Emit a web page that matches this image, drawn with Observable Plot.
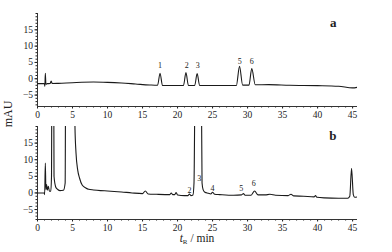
<!DOCTYPE html>
<html><head><meta charset="utf-8">
<script src="https://cdn.jsdelivr.net/npm/d3@7"></script>
<script src="https://cdn.jsdelivr.net/npm/@observablehq/plot@0.6"></script>
<style>
body{margin:0;background:#fff;}
#wrap{position:relative;width:392px;height:252px;font-family:"Liberation Serif","Times New Roman",Times,serif;color:#222;overflow:hidden;}
#top,#bot{position:absolute;left:0;}
#top{top:0;} #bot{top:122px;}
#ylab{position:absolute;left:8px;top:114px;transform:translate(-50%,-50%) rotate(-90deg);font-size:12px;white-space:nowrap;}
#xlab{position:absolute;left:197px;top:239px;transform:translate(-50%,-50%);font-size:11.5px;white-space:nowrap;}
#xlab sub{font-size:7px;vertical-align:-2px;}
</style>
</head><body>
<div id="wrap"><div id="top"></div><div id="bot"></div>
<div id="ylab">mAU</div>
<div id="xlab"><i>t</i><sub>R</sub> / min</div></div>
<script>
// chromatogram a
const timeA = [0,0.9,1.0,1.05,1.12,1.2,1.4,1.8,1.95,2.1,3,5,8,10,12,14,16,17.15,17.5,17.85,20.85,21.2,21.55,22.45,22.8,23.15,26,28.4,28.85,29.3,30.2,30.6,31.1,33,36,40,43,45,45.7];
const mAUa  = [-1.5,-1.5,-1.6,-2.3,1.7,-1.7,-1.5,-1.45,-0.7,-1.45,-1.4,-1.2,-1.0,-1.1,-1.3,-1.6,-1.9,-2.0,1.7,-2.05,-2.05,1.9,-2.05,-2.05,1.6,-2.05,-2.05,-2.05,3.8,-1.95,-1.95,3.1,-1.85,-1.8,-2.0,-2.1,-2.3,-2.8,-2.6];
// chromatogram b
const timeB = [0,0.95,1.02,1.12,1.2,1.3,1.4,1.55,1.7,1.9,2.0,2.08,2.28,2.36,2.6,2.8,3.2,3.7,3.95,4.05,4.2,5.25,5.35,5.5,5.75,6.0,6.4,6.9,7.3,8,9,10,12,13.5,15,15.4,15.8,17,18.9,19.1,19.3,19.6,19.8,20.0,21,21.5,21.7,21.9,22.2,22.35,22.6,23.3,23.5,23.65,23.9,24.4,24.75,25.0,25.3,26,28,29.15,29.4,29.65,30.5,31.0,31.5,32.5,33.2,34,35.8,36.2,36.6,38,39.5,39.7,39.9,41,43,44.3,44.6,44.85,45.1,45.3,45.7];
const mAUb  = [0,0,-0.5,9,1.0,2.5,0.8,2,0.5,0.5,5,60,60,5,1.8,1.2,0.7,0.8,3,60,60,60,20,12,6.8,4.5,2.3,1.5,1.1,0.9,0.7,0.6,0.3,0.0,-0.2,0.6,-0.3,-0.4,-0.5,0.0,-0.5,-0.5,0.1,-0.6,-0.8,-0.8,-0.3,-0.8,-0.6,3,60,60,3,1,0.2,-0.1,-0.3,0.2,-0.4,-0.5,-0.7,-0.6,-0.2,-0.7,-0.7,0.6,-0.6,-0.6,-0.4,-0.7,-0.8,-0.4,-0.9,-1.0,-1.2,-0.8,-1.3,-1.5,-1.6,-1.6,-1.0,7.4,-0.5,-1.3,-1.2];
// peak labels
const peakNamesA = ["1","2","3","5","6"];
const peakTimeA  = [17.5,21.3,22.9,28.9,30.6];
const peakLevelA = [4.1,4.1,4.1,5.3,5.3];
const peakNamesB = ["2","3","4","5","6"];
const peakTimeB  = [21.7,23.1,25.0,29.1,30.9];
const peakLevelB = [0.8,4.3,1.3,1.3,3.0];
const panelNames = ["a","b"];
const xTicks = [0,5,10,15,20,25,30,35,40,45];
const yTicks = [-5,0,5,10,15];
const xDomain = [0,45.7];
const yDomainA = [-8.5,20];
const yDomainB = [-8,20];

const rows = (t, v) => t.map((x,i)=>({t:x, v:v[i]}));
const labs = (n, t, v) => n.map((s,i)=>({s, t:t[i], v:v[i]}));
const FONT = '"Liberation Serif", "Times New Roman", Times, serif';

function panel(data, labels, name, yDomain, height, mt, mb) {
  return Plot.plot({
    width: 392, height, marginLeft: 37, marginRight: 35, marginTop: mt, marginBottom: mb,
    style: {fontFamily: FONT, fontSize: "9.5px", color: "#222", background: "white", overflow: "visible"},
    x: {domain: xDomain, label: null},
    y: {domain: yDomain, label: null},
    marks: [
      Plot.axisX(d3.range(0,46), {tickSize: 1.5, tickFormat: () => "", label: null}),
      Plot.axisX(xTicks, {tickSize: 2.5, tickPadding: 2, fontSize: 9.5, label: null}),
      Plot.axisY(d3.range(-8,21), {tickSize: 1.5, tickFormat: () => "", label: null}),
      Plot.axisY(yTicks, {tickSize: 2.5, tickPadding: 2, fontSize: 9.5, label: null}),
      Plot.ruleX([xDomain[0]], {stroke: "#333", strokeWidth: 1}),
      Plot.ruleY([yDomain[0]], {stroke: "#333", strokeWidth: 1}),
      Plot.line(data, {x: "t", y: "v", curve: "monotone-x", stroke: "#1a1a1a", strokeWidth: 1.1, clip: true}),
      Plot.text(labels, {x: "t", y: "v", text: "s", fontSize: 8, fill: "#222", fontFamily: FONT}),
      Plot.text([name], {text: d => d, frameAnchor: "top-right", dx: -21, dy: 4, fontSize: 13, fontWeight: "bold", fill: "#222", fontFamily: FONT})
    ]
  });
}

document.getElementById("top").append(panel(rows(timeA, mAUa), labs(peakNamesA, peakTimeA, peakLevelA), panelNames[0], yDomainA, 122, 13, 16));
document.getElementById("bot").append(panel(rows(timeB, mAUb), labs(peakNamesB, peakTimeB, peakLevelB), panelNames[1], yDomainB, 130, 4, 33));
</script>
</body></html>
